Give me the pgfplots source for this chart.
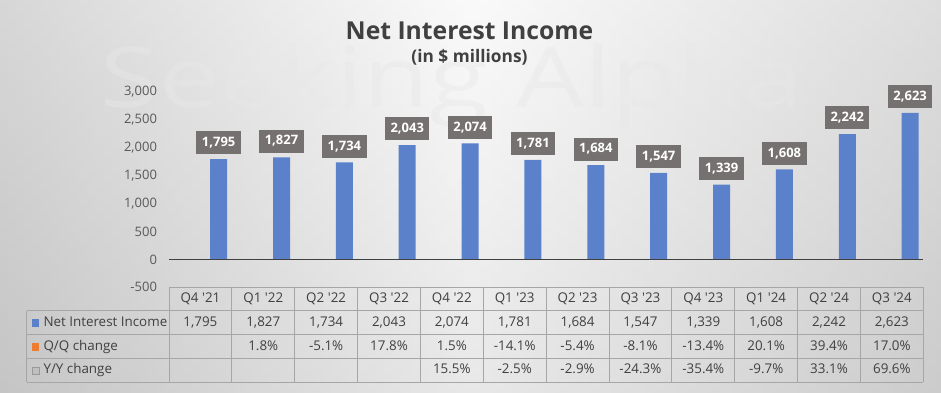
\documentclass[border=0pt]{standalone}
\usepackage{pgfplots}
\pgfplotsset{compat=1.18}
\usepackage{fontspec}
\setmainfont{Open Sans}
\definecolor{barblue}{RGB}{91,129,203}
\definecolor{lblgray}{RGB}{118,113,113}
\definecolor{txtgray}{RGB}{64,64,64}
\definecolor{tickgray}{RGB}{89,89,89}
\definecolor{gridgray}{RGB}{166,166,166}
\definecolor{qqorange}{RGB}{237,125,49}
\definecolor{wm}{RGB}{232,232,232}
\begin{document}
\begin{tikzpicture}[x=1pt,y=1pt]
\shade[left color=black!24, right color=black!20, middle color=black!3] (0,0) rectangle (941,392);
\shade[top color=white, bottom color=black!20, opacity=0.35] (0,0) rectangle (941,392);
% watermark
\node[anchor=base west, font=\fontsize{84}{84}\selectfont, text=wm, opacity=0.45, inner sep=0pt, xscale=1.28] at (100,285) {Seeking Alpha};
% titles
\node[font=\bfseries\fontsize{24.7}{28}\selectfont, text=txtgray, anchor=base] at (469.5,352.7) {Net Interest Income};
\node[font=\bfseries\fontsize{17.3}{20}\selectfont, text=txtgray, anchor=base] at (469.5,330) {(in \$ millions)};
\begin{axis}[
  at={(169pt,104.7pt)}, anchor=south west,
  scale only axis, width=754.3pt, height=195.6pt,
  xmin=-0.79, xmax=11.21, ymin=-500, ymax=3000,
  ytick={-500,0,...,3000}, xtick=\empty,
  axis line style={draw=none}, major tick length=0pt,
  ybar, bar width=17pt, clip=false,
  yticklabel style={font=\fontsize{13}{15}\selectfont, text=tickgray, xshift=-8.5pt},
  /pgf/number format/.cd, 1000 sep={,}, assume math mode=true, /pgfplots/.cd,
  nodes near coords,
  every node near coord/.append style={fill=lblgray, text=white,
    font=\bfseries\fontsize{13}{15}\selectfont, inner xsep=5.5pt, inner ysep=0pt,
    minimum height=23pt, anchor=south, yshift=4.5pt},
]
\addplot[fill=barblue, draw=none] coordinates {
 (0,1795) (1,1827) (2,1734) (3,2043) (4,2074) (5,1781)
 (6,1684) (7,1547) (8,1339) (9,1608) (10,2242) (11,2623)};
\draw[color=txtgray, line width=1.5pt] (axis cs:-0.79,0) -- (axis cs:11.21,0);
\end{axis}
% data table
\begin{scope}[gridgray, line width=0.8pt]
\foreach \k in {0,...,12} {\draw (169+62.858*\k,104.7) -- (169+62.858*\k,9.8);}
\draw (169,104.7) -- (923.3,104.7);
\foreach \yy in {81.2,57.4,33.6,9.8} {\draw (26.7,\yy) -- (923.3,\yy);}
\draw (26.7,81.2) -- (26.7,9.8);
\end{scope}
\begin{scope}[every node/.style={font=\fontsize{13.4}{15}\selectfont, text=txtgray, text height=9.5pt, text depth=2.5pt, inner sep=0pt}]
\foreach \lab [count=\i from 0] in {Q4 \textquotesingle21,Q1 \textquotesingle22,Q2 \textquotesingle22,Q3 \textquotesingle22,Q4 \textquotesingle22,Q1 \textquotesingle23,Q2 \textquotesingle23,Q3 \textquotesingle23,Q4 \textquotesingle23,Q1 \textquotesingle24,Q2 \textquotesingle24,Q3 \textquotesingle24}
  {\node at (200.43+62.858*\i,92.95) {\lab};}
\foreach \lab [count=\i from 0] in {{1,795},{1,827},{1,734},{2,043},{2,074},{1,781},{1,684},{1,547},{1,339},{1,608},{2,242},{2,623}}
  {\node at (200.43+62.858*\i,69.3) {\lab};}
\foreach \lab [count=\i from 1] in {1.8\%,-5.1\%,17.8\%,1.5\%,-14.1\%,-5.4\%,-8.1\%,-13.4\%,20.1\%,39.4\%,17.0\%}
  {\node at (200.43+62.858*\i,45.5) {\lab};}
\foreach \lab [count=\i from 4] in {15.5\%,-2.5\%,-2.9\%,-24.3\%,-35.4\%,-9.7\%,33.1\%,69.6\%}
  {\node at (200.43+62.858*\i,21.7) {\lab};}
\node[anchor=west] at (43.3,69.3) {Net Interest Income};
\node[anchor=west] at (43.3,45.5) {Q/Q change};
\node[anchor=west] at (43.3,21.7) {Y/Y change};
\end{scope}
\fill[barblue] (31.7,65.3) rectangle (39.3,72.9);
\fill[qqorange] (31.7,41.5) rectangle (39.3,49.1);
\filldraw[fill=black!25, draw=black!40, line width=0.5pt] (31.9,17.9) rectangle (39.1,25.1);
\end{tikzpicture}
\end{document}
